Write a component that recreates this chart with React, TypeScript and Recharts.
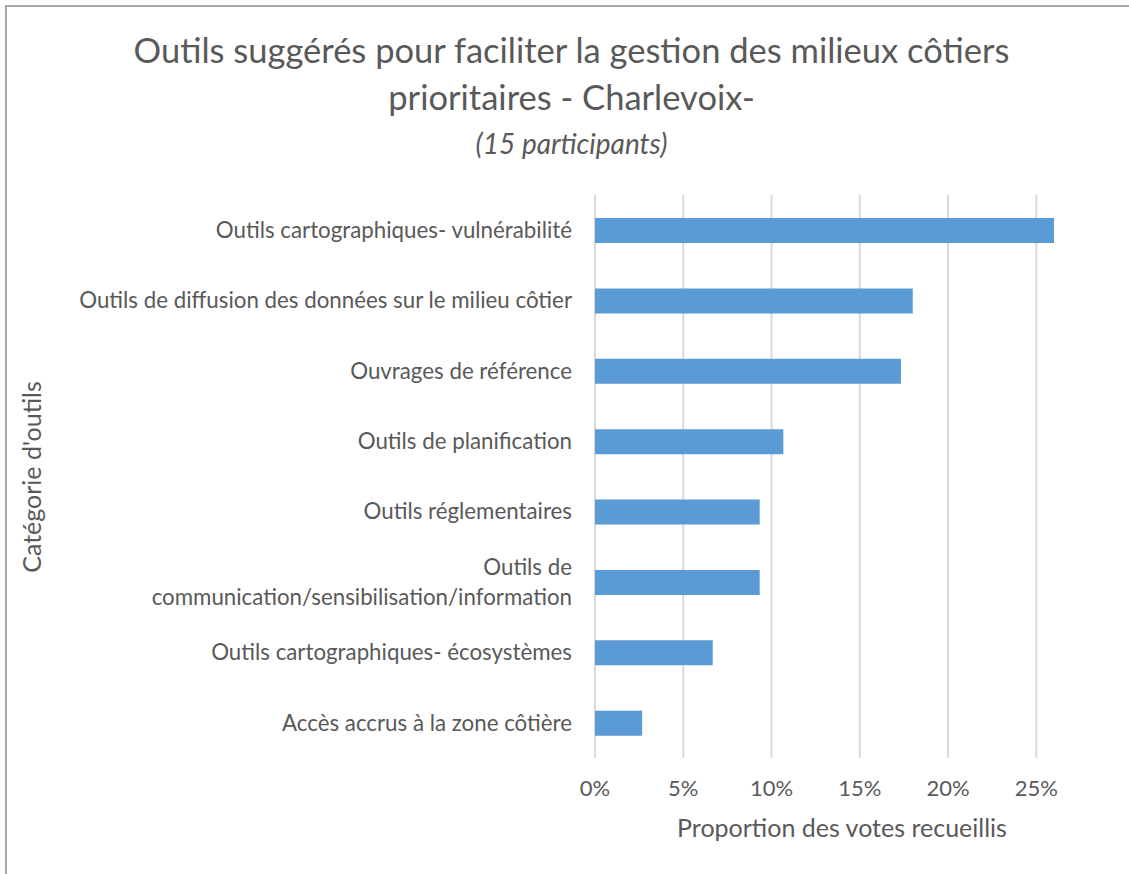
import { BarChart, Bar, XAxis, YAxis, CartesianGrid } from 'recharts';

const categories = [
  'Outils cartographiques- vulnérabilité',
  'Outils de diffusion des données sur le milieu côtier',
  'Ouvrages de référence',
  'Outils de planification',
  'Outils réglementaires',
  'Outils de\ncommunication/sensibilisation/information',
  'Outils cartographiques- écosystèmes',
  'Accès accrus à la zone côtière',
];

const proportions = [26.0, 18.0, 17.33, 10.67, 9.33, 9.33, 6.67, 2.67];

const xTicks = [0, 5, 10, 15, 20, 25];
const xMax = 26;

const data = categories.map((name, i) => ({ name, value: proportions[i] }));

const FONT = 'Lato, "Noto Sans", sans-serif';
const TEXT = '#595959';

function CategoryTick({ x, y, payload }: any) {
  const lines = String(payload.value).split('\n');
  const lineHeight = 30;
  const start = -((lines.length - 1) * lineHeight) / 2;
  return (
    <text
      x={x}
      y={y}
      textAnchor="end"
      fill={TEXT}
      fontFamily={FONT}
      fontSize={22.3}
    >
      {lines.map((line, i) => (
        <tspan key={i} x={x} y={y + start + i * lineHeight} dy="0.35em">
          {line}
        </tspan>
      ))}
    </text>
  );
}

function PercentTick({ x, y, payload }: any) {
  return (
    <text
      x={x}
      y={y + 30}
      textAnchor="middle"
      fill={TEXT}
      fontFamily={FONT}
      fontSize={22}
    >
      {payload.value}%
    </text>
  );
}

// grid only at the labelled ticks (not at the domain edge)
const gridX = ({ xAxis, offset }: any) => {
  if (xAxis && typeof xAxis.scale === 'function') {
    return xTicks.map((t) => xAxis.scale(t));
  }
  return xTicks.map((t) => offset.left + (t / xMax) * offset.width);
};

export default function App() {
  return (
    <div
      style={{
        position: 'absolute',
        left: 0,
        top: 0,
        width: 1129,
        height: 874,
        background: '#fff',
        fontFamily: FONT,
        color: TEXT,
      }}
    >
      <div
        style={{
          position: 'absolute',
          left: 5,
          top: 5,
          right: 0,
          bottom: 0,
          borderTop: '2px solid #a6a6a6',
          borderLeft: '2px solid #a6a6a6',
        }}
      />
      <div
        style={{
          position: 'absolute',
          left: 0,
          width: 1143,
          top: 26,
          textAlign: 'center',
          fontSize: 34.5,
          lineHeight: '47px',
        }}
      >
        Outils suggérés pour faciliter la gestion des milieux côtiers
        <br />
        prioritaires - Charlevoix-
      </div>
      <div
        style={{
          position: 'absolute',
          left: 0,
          width: 1143,
          top: 126,
          textAlign: 'center',
          fontSize: 28,
          fontStyle: 'italic',
        }}
      >
        (15 participants)
      </div>
      <BarChart
        width={1129}
        height={874}
        data={data}
        layout="vertical"
        margin={{ top: 195, right: 75, left: 0, bottom: 76 }}
        barSize={25}
      >
        <CartesianGrid
          horizontal={false}
          stroke="#d9d9d9"
          strokeWidth={2}
          verticalCoordinatesGenerator={gridX}
        />
        <XAxis
          type="number"
          domain={[0, xMax]}
          ticks={xTicks}
          allowDataOverflow
          axisLine={false}
          tickLine={false}
          tick={<PercentTick />}
          height={40}
        />
        <YAxis
          type="category"
          dataKey="name"
          width={595}
          axisLine={false}
          tickLine={false}
          tick={<CategoryTick />}
          tickMargin={17}
          interval={0}
        />
        <Bar dataKey="value" fill="#5b9bd5" isAnimationActive={false} />
      </BarChart>
      <div
        style={{
          position: 'absolute',
          left: 842 - 250,
          width: 500,
          top: 812,
          textAlign: 'center',
          fontSize: 25,
        }}
      >
        Proportion des votes recueillis
      </div>
      <div
        style={{
          position: 'absolute',
          left: 31 - 150,
          top: 477 - 16,
          width: 300,
          height: 32,
          textAlign: 'center',
          fontSize: 25,
          lineHeight: '32px',
          transform: 'rotate(-90deg)',
        }}
      >
        Catégorie d'outils
      </div>
    </div>
  );
}
